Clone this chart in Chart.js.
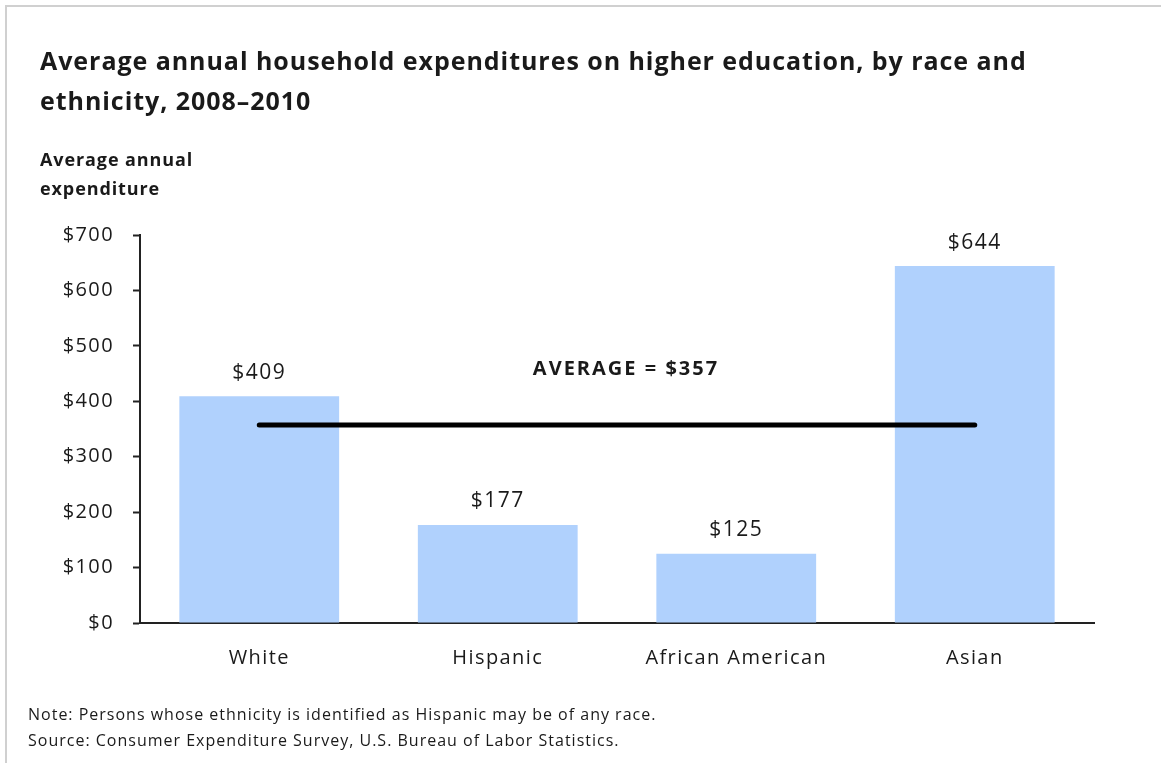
<!DOCTYPE html>
<html>
<head>
<meta charset="utf-8">
<script src="https://cdn.jsdelivr.net/npm/chart.js@4/dist/chart.umd.min.js"></script>
<style>
  html, body { margin: 0; padding: 0; background: #fff; }
  body { width: 1161px; height: 763px; position: relative; overflow: hidden;
         font-family: "Open Sans", sans-serif; color: #1a1a1a; }
  #frame { position: absolute; left: 5px; top: 5px; right: -10px; bottom: -10px;
           border-top: 2px solid #d0d0d0; border-left: 2px solid #d0d0d0; }
  #wrap { position: absolute; left: 0; top: 0; width: 1161px; height: 763px; }
  .title { position: absolute; left: 40px; top: 40px; font-weight: bold; font-size: 25px;
           line-height: 40px; letter-spacing: 0.95px; white-space: nowrap; }
  .ytitle { position: absolute; left: 40px; top: 145px; font-weight: bold; font-size: 18px;
            line-height: 29px; letter-spacing: 0.9px; }
  .note { position: absolute; left: 28px; font-size: 16px; letter-spacing: 1px; white-space: nowrap; }
</style>
</head>
<body>
<div id="frame"></div>
<div id="wrap"><canvas id="chart" width="1161" height="763"></canvas></div>
<div class="title">Average annual household expenditures on higher education, by race and<br>ethnicity, 2008–2010</div>
<div class="ytitle">Average annual<br>expenditure</div>
<div class="note" style="top:703px">Note: Persons whose ethnicity is identified as Hispanic may be of any race.</div>
<div class="note" style="top:729px">Source: Consumer Expenditure Survey, U.S. Bureau of Labor Statistics.</div>
<script>
const categories = ["White", "Hispanic", "African American", "Asian"];
const spending = [409, 177, 125, 644];
const averageLine = [357, 357, 357, 357];
const averageText = "AVERAGE = $357";

const fontFam = "'Open Sans', sans-serif";

// loosen the letter spacing a bit for the axis text
const spacingPlugin = {
  id: "spacing",
  beforeDraw(chart) { chart.ctx.letterSpacing = "1.4px"; }
};

// value labels above the bars plus the average caption
const labelsPlugin = {
  id: "labels",
  afterDatasetsDraw(chart) {
    const ctx = chart.ctx;
    const meta = chart.getDatasetMeta(1);
    ctx.save();
    ctx.letterSpacing = "1.5px";
    ctx.fillStyle = "#1a1a1a";
    ctx.textAlign = "center";
    ctx.textBaseline = "bottom";
    ctx.font = "21px " + fontFam;
    meta.data.forEach((bar, i) => {
      ctx.fillText("$" + spending[i], bar.x, bar.y - 13);
    });
    const x = chart.scales.x;
    const y = chart.scales.y;
    ctx.letterSpacing = "2px";
    ctx.font = "bold 20px " + fontFam;
    ctx.fillText(averageText, x.getPixelForValue(1.5) + 9, y.getPixelForValue(averageLine[0]) - 46);
    ctx.restore();
  }
};

new Chart(document.getElementById("chart"), {
  data: {
    labels: categories,
    datasets: [
      {
        type: "line",
        data: averageLine,
        borderColor: "#000",
        borderWidth: 5,
        borderCapStyle: "round",
        pointRadius: 0,
        order: 0
      },
      {
        type: "bar",
        data: spending,
        backgroundColor: "#b0d1fd",
        categoryPercentage: 0.67,
        barPercentage: 1.0,
        order: 1
      }
    ]
  },
  options: {
    responsive: false,
    animation: false,
    layout: { padding: { left: 0, top: 235, right: 67, bottom: 0 } },
    plugins: { legend: { display: false }, tooltip: { enabled: false } },
    scales: {
      x: {
        grid: { display: false },
        border: { color: "#222", width: 2 },
        ticks: { color: "#1a1a1a", font: { family: fontFam, size: 20 }, padding: 15 },
        afterFit(scale) { scale.height = 140; }
      },
      y: {
        min: 0,
        max: 700,
        grid: { drawOnChartArea: false, drawTicks: true, tickLength: 7, color: "#222", tickWidth: 2 },
        border: { color: "#222", width: 2 },
        ticks: {
          stepSize: 100,
          color: "#1a1a1a",
          font: { family: fontFam, size: 20 },
          padding: 19,
          callback: v => "$" + v
        },
        afterFit(scale) { scale.width = 140; }
      }
    }
  },
  plugins: [spacingPlugin, labelsPlugin]
});
</script>
</body>
</html>
